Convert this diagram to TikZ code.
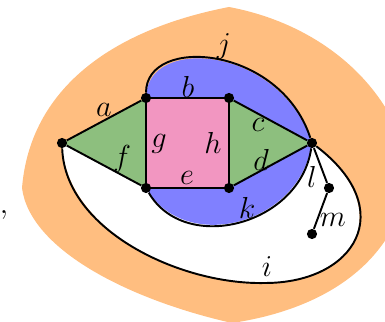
\documentclass[tikz,border=0pt]{standalone}
\usetikzlibrary{positioning,backgrounds}
\definecolor{outerface}{RGB}{255,190,128}
\definecolor{blueface}{RGB}{128,128,255}
\definecolor{greenface}{RGB}{141,191,126}
\definecolor{pinkface}{RGB}{242,150,193}
\tikzset{
  vtx/.style={circle,fill=black,inner sep=0pt,minimum size=5.8pt},
  edge/.style={line width=1.1pt},
  lbl/.style={font=\LARGE,inner sep=1pt},
}
\begin{document}
\begin{tikzpicture}
\useasboundingbox (0,0) rectangle (7.7,6.44);
\clip (0,0) rectangle (7.7,6.44);
% vertices
\node[vtx] (west) at (1.24,3.58) {};
\node[vtx] (nw) at (2.92,4.48) {};
\node[vtx] (ne) at (4.58,4.48) {};
\node[vtx] (sw) at (2.92,2.68) {};
\node[vtx] (se) at (4.58,2.68) {};
\node[vtx] (east) at (6.24,3.58) {};
\node[vtx] (lt) at (6.58,2.68) {};
\node[vtx] (mb) at (6.24,1.76) {};
% faces
\begin{pgfonlayer}{background}
\fill[outerface] (4.58,6.30) .. controls (2.20,5.84) and (0.60,4.64) .. (0.44,2.68)
  .. controls (0.60,1.44) and (2.60,0.44) .. (4.64,-0.02)
  .. controls (6.40,0.24) and (8.00,1.14) .. (8.20,3.04)
  .. controls (7.90,4.64) and (6.50,5.94) .. cycle;
\fill[white] (west.center) .. controls (1.30,1.84) and (3.60,0.74) .. (5.30,0.78)
  .. controls (7.10,0.78) and (8.00,2.24) .. (east.center) -- cycle;
\fill[blueface] (nw.center) .. controls (2.92,5.74) and (5.60,5.54) .. (east.center)
  .. controls (6.00,1.94) and (3.70,1.34) .. (sw.center) -- cycle;
\fill[greenface] (west.center) -- (nw.center) -- (sw.center) -- cycle;
\fill[greenface] (ne.center) -- (east.center) -- (se.center) -- cycle;
\fill[pinkface] (nw.center) rectangle (se.center);
\end{pgfonlayer}
% edges
\draw[edge] (west) .. controls (1.30,1.84) and (3.60,0.74) .. (5.30,0.78)
  .. controls (7.10,0.78) and (8.00,2.24) .. (east);
\draw[edge] (nw) .. controls (2.92,5.74) and (5.60,5.54) .. (east);
\draw[edge] (east) .. controls (6.00,1.94) and (3.70,1.34) .. (sw);
\draw[edge] (west) -- (nw);
\draw[edge] (nw) -- (ne);
\draw[edge] (ne) -- (east);
\draw[edge] (se) -- (east);
\draw[edge] (sw) -- (se);
\draw[edge] (west) -- (sw);
\draw[edge] (nw) -- (sw);
\draw[edge] (ne) -- (se);
\draw[edge] (east) -- (lt);
\draw[edge] (lt) -- (mb);
% labels
\node[lbl] (la) at (2.08,4.24) {$a$};
\node[lbl] (lb) at (3.76,4.70) {$b$};
\node[lbl] (lc) at (5.16,3.94) {$c$};
\node[lbl] (ld) at (5.22,3.24) {$d$};
\node[lbl] (le) at (3.74,2.88) {$e$};
\node[lbl] (lf) at (2.44,3.26) {$f$};
\node[lbl] (lg) at (3.18,3.56) {$g$};
\node[lbl] (lh) at (4.26,3.58) {$h$};
\node[lbl] (li) at (5.34,1.10) {$i$};
\node[lbl] (lj) at (4.48,5.50) {$j$};
\node[lbl] (lk) at (4.94,2.28) {$k$};
\node[lbl] (ll) at (6.24,2.90) {$l$};
\node[lbl] (lm) at (6.66,2.04) {$m$};
\node[lbl,anchor=base,inner sep=0pt] (comma) at (0.08,2.16) {$,$};
\end{tikzpicture}
\end{document}
